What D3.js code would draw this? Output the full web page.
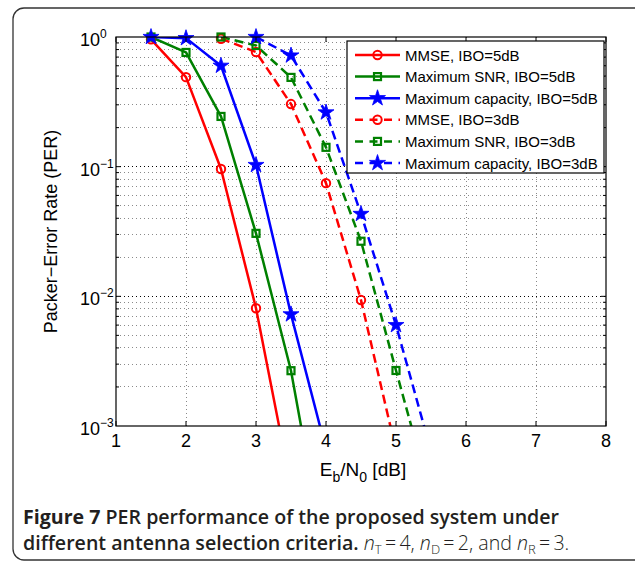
<!DOCTYPE html>
<meta charset="utf-8">
<style>
body { margin: 0; background: #fff; }
.axis text { font-family: "Liberation Sans", Arial, sans-serif; font-size: 18px; fill: #000; }
.grid line { stroke: #8a8a8a; stroke-width: 1px; stroke-dasharray: 1,3; shape-rendering: crispEdges; }
.grid line.major { stroke: #000; }
.series { fill: none; stroke-width: 2.5px; stroke-linejoin: round; }
.legend text { font-family: "Liberation Sans", Arial, sans-serif; font-size: 15px; }
.caption { font-family: "Open Sans", sans-serif; font-size: 19.6px; fill: #231f20; }
</style>
<div id="chart"></div>
<script src="https://d3js.org/d3.v7.min.js"></script>
<script>

// Eb/N0 points (dB) and PER values
var ebMmse5 = [1.5, 2, 2.5, 3, 3.5];
var perMmse5 = [0.96, 0.49, 0.096, 0.0081, 0.00034];
var ebSnr5 = [1.5, 2, 2.5, 3, 3.5, 4];
var perSnr5 = [1.0, 0.76, 0.244, 0.0306, 0.00267, 0.000087];
var ebCap5 = [1.5, 2, 2.5, 3, 3.5, 4];
var perCap5 = [1.0, 0.98, 0.60, 0.103, 0.00726, 0.00066];
var ebMmse3 = [2.5, 3, 3.5, 4, 4.5, 5];
var perMmse3 = [0.97, 0.766, 0.304, 0.0746, 0.00936, 0.00065];
var ebSnr3 = [2.5, 3, 3.5, 4, 4.5, 5, 5.5];
var perSnr3 = [1.0, 0.86, 0.488, 0.141, 0.0266, 0.00268, 0.00028];
var ebCap3 = [3, 3.5, 4, 4.5, 5, 5.5];
var perCap3 = [1.0, 0.72, 0.262, 0.0432, 0.0060, 0.00064];

var seriesNames = ["MMSE, IBO=5dB", "Maximum SNR, IBO=5dB", "Maximum capacity, IBO=5dB",
                   "MMSE, IBO=3dB", "Maximum SNR, IBO=3dB", "Maximum capacity, IBO=3dB"];
var xTicks = [1, 2, 3, 4, 5, 6, 7, 8];
var yTickExps = [0, -1, -2, -3];

var width = 635, height = 562;
var plot = {left: 116, right: 606, top: 37, bottom: 426};

var x = d3.scaleLinear().domain([1, 8]).range([plot.left, plot.right]);
var y = d3.scaleLog().domain([1e-3, 1]).range([plot.bottom, plot.top]);

function zip(xs, ys) {
  return xs.map(function(v, i) { return {x: v, y: ys[i]}; });
}

var series = [
  {name: seriesNames[0], color: "#ff0000", dash: null, marker: "circle", pts: zip(ebMmse5, perMmse5)},
  {name: seriesNames[1], color: "#008000", dash: null, marker: "square", pts: zip(ebSnr5, perSnr5)},
  {name: seriesNames[2], color: "#0000ff", dash: null, marker: "star", pts: zip(ebCap5, perCap5)},
  {name: seriesNames[3], color: "#ff0000", dash: "9,5", marker: "circle", pts: zip(ebMmse3, perMmse3)},
  {name: seriesNames[4], color: "#008000", dash: "9,5", marker: "square", pts: zip(ebSnr3, perSnr3)},
  {name: seriesNames[5], color: "#0000ff", dash: "9,5", marker: "star", pts: zip(ebCap3, perCap3)}
];

var svg = d3.select("#chart").append("svg")
  .attr("width", width)
  .attr("height", height);

// rounded frame of the figure panel
svg.append("rect")
  .attr("x", 13).attr("y", 8)
  .attr("width", 640).attr("height", 552)
  .attr("rx", 11)
  .attr("fill", "none")
  .attr("stroke", "#333")
  .attr("stroke-width", 1.3);

svg.append("clipPath")
  .attr("id", "clip")
  .append("rect")
  .attr("x", plot.left).attr("y", plot.top)
  .attr("width", plot.right - plot.left)
  .attr("height", plot.bottom - plot.top);

// grid
var grid = svg.append("g").attr("class", "grid");
xTicks.slice(1, -1).forEach(function(t) {
  grid.append("line")
    .attr("x1", x(t)).attr("x2", x(t))
    .attr("y1", plot.top).attr("y2", plot.bottom);
});
var minorVals = [];
[-3, -2, -1].forEach(function(e) {
  for (var k = 2; k <= 9; k++) minorVals.push(k * Math.pow(10, e));
});
minorVals.forEach(function(v) {
  grid.append("line")
    .attr("x1", plot.left).attr("x2", plot.right)
    .attr("y1", y(v)).attr("y2", y(v));
});
[-2, -1].forEach(function(e) {
  grid.append("line")
    .attr("class", "major")
    .attr("x1", plot.left).attr("x2", plot.right)
    .attr("y1", y(Math.pow(10, e))).attr("y2", y(Math.pow(10, e)));
});

// lines
var line = d3.line()
  .x(function(d) { return x(d.x); })
  .y(function(d) { return y(d.y); });

svg.append("g")
  .attr("clip-path", "url(#clip)")
  .selectAll("path")
  .data(series)
  .enter().append("path")
  .attr("class", "series")
  .attr("stroke", function(d) { return d.color; })
  .attr("stroke-dasharray", function(d) { return d.dash; })
  .attr("d", function(d) { return line(d.pts); });

function drawMarker(g, type, color) {
  if (type === "circle") {
    g.append("circle").attr("r", 4.2)
      .attr("fill", "none").attr("stroke", color).attr("stroke-width", 2);
  } else if (type === "square") {
    g.append("rect").attr("x", -3.5).attr("y", -3.5)
      .attr("width", 7).attr("height", 7)
      .attr("fill", "none").attr("stroke", color).attr("stroke-width", 2.2);
  } else {
    g.append("path")
      .attr("d", d3.symbol().type(d3.symbolStar).size(80)())
      .attr("fill", color).attr("stroke", color).attr("stroke-width", 0.8);
  }
}

// markers (only those inside the y range)
series.forEach(function(s) {
  s.pts.filter(function(p) { return p.y >= 1e-3; }).forEach(function(p) {
    var g = svg.append("g")
      .attr("transform", "translate(" + x(p.x) + "," + y(p.y) + ")");
    drawMarker(g, s.marker, s.color);
  });
});

// axes box and ticks
var axis = svg.append("g").attr("class", "axis");
axis.append("rect")
  .attr("x", plot.left).attr("y", plot.top)
  .attr("width", plot.right - plot.left)
  .attr("height", plot.bottom - plot.top)
  .attr("fill", "none").attr("stroke", "#000").attr("stroke-width", 1.2);

xTicks.forEach(function(t) {
  axis.append("line").attr("x1", x(t)).attr("x2", x(t))
    .attr("y1", plot.bottom).attr("y2", plot.bottom - 5).attr("stroke", "#000");
  axis.append("line").attr("x1", x(t)).attr("x2", x(t))
    .attr("y1", plot.top).attr("y2", plot.top + 5).attr("stroke", "#000");
  axis.append("text")
    .attr("x", x(t)).attr("y", plot.bottom + 21)
    .attr("text-anchor", "middle")
    .text(t);
});

minorVals.concat([1e-2, 1e-1]).forEach(function(v) {
  var len = minorVals.indexOf(v) >= 0 ? 3 : 5;
  axis.append("line").attr("x1", plot.left).attr("x2", plot.left + len)
    .attr("y1", y(v)).attr("y2", y(v)).attr("stroke", "#000");
  axis.append("line").attr("x1", plot.right).attr("x2", plot.right - len)
    .attr("y1", y(v)).attr("y2", y(v)).attr("stroke", "#000");
});

yTickExps.forEach(function(e) {
  var t = axis.append("text")
    .attr("x", 80).attr("y", y(Math.pow(10, e)) + 9);
  t.append("tspan").text("10");
  t.append("tspan").attr("dy", -8).attr("font-size", "12px")
    .text(e === 0 ? "0" : "\u2212" + (-e));
});

// axis titles
var xl = svg.append("text")
  .attr("x", 363).attr("y", 476)
  .attr("text-anchor", "middle")
  .style("font-family", "Liberation Sans, Arial, sans-serif")
  .style("font-size", "19px");
xl.append("tspan").text("E");
xl.append("tspan").attr("dy", 6).attr("font-size", "14px").text("b");
xl.append("tspan").attr("dy", -6).text("/N");
xl.append("tspan").attr("dy", 6).attr("font-size", "14px").text("0");
xl.append("tspan").attr("dy", -6).text(" [dB]");

svg.append("text")
  .attr("transform", "translate(57," + ((plot.top + plot.bottom) / 2) + ") rotate(-90)")
  .attr("text-anchor", "middle")
  .style("font-family", "Liberation Sans, Arial, sans-serif")
  .style("font-size", "18px")
  .text("Packer\u2212Error Rate (PER)");

// legend
var legend = svg.append("g").attr("class", "legend");
legend.append("rect")
  .attr("x", 347).attr("y", 41)
  .attr("width", 257).attr("height", 132)
  .attr("fill", "#fff").attr("stroke", "#000").attr("stroke-width", 1.2);

var item = legend.selectAll("g.item")
  .data(series)
  .enter().append("g")
  .attr("class", "item")
  .attr("transform", function(d, i) { return "translate(0," + (55 + i * 21.6) + ")"; });
item.append("line")
  .attr("x1", 355).attr("x2", 400)
  .attr("stroke", function(d) { return d.color; })
  .attr("stroke-width", 2.5)
  .attr("stroke-dasharray", function(d) { return d.dash ? "8,6.5" : null; });
item.each(function(d) {
  var g = d3.select(this).append("g").attr("transform", "translate(377.5,0)");
  drawMarker(g, d.marker, d.color);
});
item.append("text")
  .attr("x", 405).attr("y", 5.5)
  .text(function(d) { return d.name; });

// caption
var cap1 = svg.append("text").attr("class", "caption").attr("x", 23).attr("y", 524);
cap1.append("tspan").attr("font-weight", 700).text("Figure 7");
cap1.append("tspan").attr("font-weight", 600).text(" PER performance of the proposed system under");

var cap2 = svg.append("text").attr("class", "caption").attr("x", 23).attr("y", 550);
cap2.append("tspan").attr("font-weight", 600).text("different antenna selection criteria.");
function italicN(sub, val, tail) {
  cap2.append("tspan").attr("font-weight", 300).attr("font-style", "italic").text(" n");
  cap2.append("tspan").attr("font-weight", 300).attr("font-size", "13px").attr("dy", 4).text(sub);
  cap2.append("tspan").attr("font-weight", 300).attr("dy", -4).text("\u2009=\u2009" + val + tail);
}
italicN("T", "4", ",");
italicN("D", "2", ", and");
italicN("R", "3", ".");

</script>
